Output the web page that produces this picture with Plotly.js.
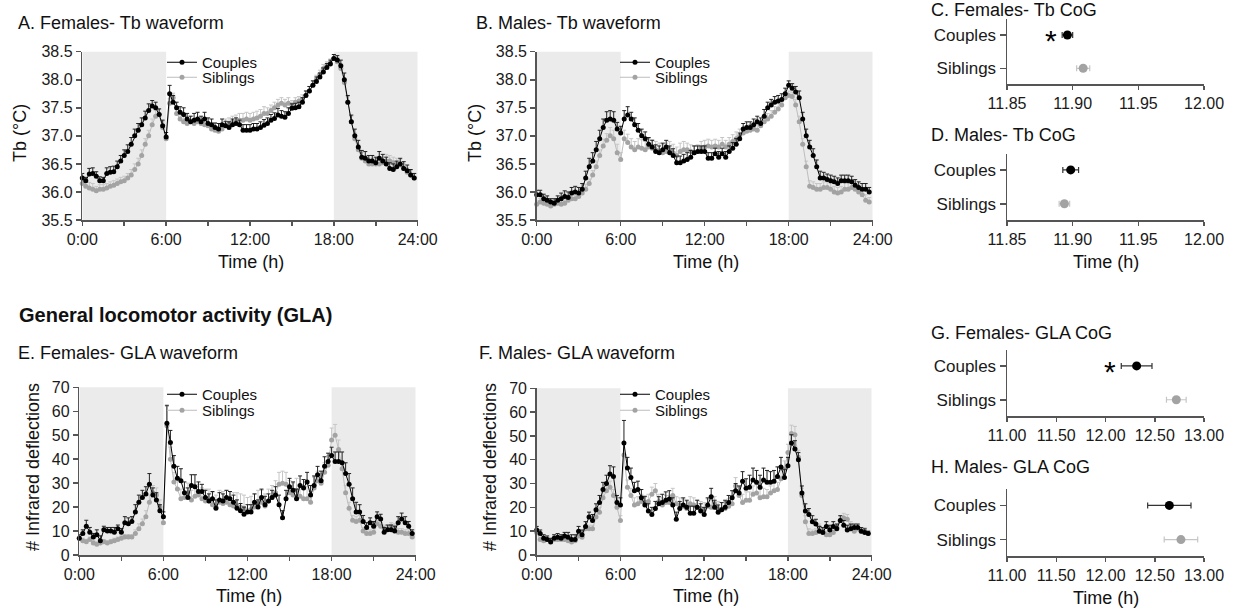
<!DOCTYPE html>
<html>
<head>
<meta charset="utf-8">
<script src="https://cdn.plot.ly/plotly-3.0.1.min.js"></script>
<style>html,body{margin:0;padding:0;background:#fff;}#chart{width:1239px;height:609px;}</style>
</head>
<body>
<div id="chart"></div>
<script>
// ---------------- DATA ----------------
const groups = ['Couples', 'Siblings'];
const xTickVals = [0, 3, 6, 9, 12, 15, 18, 21, 24];
const xTickText = ['0:00', '', '6:00', '', '12:00', '', '18:00', '', '24:00'];
const stepHours = 0.25; // 15-min bins

// A. Females - Tb waveform (°C)
const aCouples = [
  36.25,36.20,36.32,36.33,36.28,36.20,36.20,36.33,36.35,36.36,36.45,36.55,36.65,36.72,36.85,37.00,37.10,37.20,37.32,37.45,37.53,37.50,37.38,37.18,
  36.98,37.75,37.60,37.50,37.42,37.38,37.30,37.25,37.28,37.30,37.25,37.30,37.22,37.20,37.15,37.12,37.20,37.18,37.15,37.20,37.22,37.20,37.10,37.10,
  37.10,37.12,37.12,37.15,37.19,37.22,37.28,37.31,37.37,37.35,37.33,37.40,37.49,37.50,37.52,37.60,37.72,37.80,37.90,37.97,38.05,38.14,38.22,38.28,
  38.38,38.35,38.25,38.00,37.60,37.25,37.00,36.80,36.62,36.60,36.55,36.55,36.52,36.60,36.55,36.50,36.42,36.40,36.45,36.50,36.42,36.38,36.30,36.25];
const aCouplesErr = [
  0.08,0.06,0.10,0.10,0.08,0.07,0.06,0.10,0.10,0.10,0.10,0.10,0.10,0.12,0.12,0.12,0.12,0.12,0.12,0.12,0.10,0.10,0.10,0.10,
  0.08,0.15,0.12,0.10,0.10,0.12,0.10,0.10,0.12,0.12,0.10,0.12,0.10,0.10,0.08,0.10,0.10,0.08,0.10,0.10,0.10,0.08,0.10,0.10,
  0.10,0.10,0.10,0.10,0.10,0.10,0.10,0.10,0.12,0.10,0.10,0.10,0.08,0.08,0.08,0.08,0.08,0.08,0.08,0.08,0.07,0.07,0.07,0.07,
  0.07,0.08,0.10,0.12,0.12,0.12,0.12,0.12,0.12,0.12,0.10,0.10,0.10,0.12,0.12,0.12,0.10,0.10,0.10,0.10,0.12,0.10,0.10,0.08];
const aSiblings = [
  36.15,36.10,36.07,36.05,36.02,36.05,36.05,36.07,36.10,36.12,36.15,36.18,36.20,36.25,36.30,36.40,36.50,36.65,36.85,37.00,37.20,37.35,37.38,37.15,
  36.95,37.58,37.68,37.40,37.30,37.25,37.22,37.25,37.22,37.25,37.22,37.20,37.18,37.12,37.10,37.08,37.12,37.20,37.22,37.25,37.25,37.28,37.28,37.30,
  37.28,37.30,37.32,37.35,37.40,37.40,37.45,37.50,37.55,37.58,37.55,37.58,37.55,37.60,37.62,37.65,37.72,37.80,37.90,38.00,38.10,38.20,38.25,38.30,
  38.38,38.32,38.20,37.95,37.60,37.25,36.95,36.75,36.60,36.55,36.50,36.50,36.50,36.50,36.52,36.55,36.55,36.52,36.50,36.48,36.42,36.35,36.30,36.25];
const aSiblingsErr = [
  0.06,0.08,0.10,0.10,0.08,0.08,0.08,0.08,0.08,0.08,0.08,0.08,0.08,0.08,0.10,0.10,0.10,0.10,0.10,0.10,0.10,0.10,0.10,0.10,
  0.06,0.08,0.08,0.08,0.08,0.10,0.10,0.10,0.08,0.08,0.08,0.08,0.08,0.08,0.08,0.08,0.08,0.10,0.10,0.10,0.12,0.12,0.12,0.12,
  0.12,0.12,0.12,0.12,0.12,0.10,0.10,0.10,0.10,0.10,0.10,0.10,0.08,0.08,0.08,0.08,0.08,0.08,0.08,0.08,0.07,0.07,0.07,0.07,
  0.07,0.07,0.08,0.08,0.10,0.10,0.10,0.10,0.10,0.10,0.10,0.10,0.10,0.10,0.10,0.12,0.10,0.10,0.10,0.10,0.08,0.08,0.08,0.08];

// B. Males - Tb waveform (°C)
const bCouples = [
  35.95,35.95,35.88,35.85,35.82,35.80,35.85,35.88,35.92,35.90,35.98,36.00,35.98,36.05,36.25,36.45,36.55,36.75,36.95,37.15,37.28,37.30,37.28,37.12,
  37.05,37.30,37.37,37.30,37.20,37.10,37.00,36.95,36.85,36.80,36.72,36.70,36.75,36.80,36.70,36.65,36.52,36.52,36.55,36.58,36.62,36.70,36.72,36.72,
  36.72,36.60,36.60,36.68,36.62,36.68,36.62,36.72,36.78,36.85,36.95,37.12,37.15,37.15,37.20,37.25,37.22,37.35,37.50,37.55,37.60,37.62,37.65,37.75,
  37.90,37.85,37.78,37.68,37.30,37.00,36.80,36.65,36.45,36.25,36.25,36.22,36.20,36.18,36.15,36.20,36.20,36.20,36.18,36.12,36.08,36.05,36.05,36.00];
const bCouplesErr = [
  0.08,0.08,0.08,0.08,0.06,0.08,0.08,0.10,0.10,0.10,0.10,0.10,0.10,0.10,0.12,0.15,0.15,0.15,0.15,0.15,0.15,0.15,0.15,0.12,
  0.12,0.15,0.15,0.12,0.12,0.12,0.12,0.12,0.12,0.12,0.12,0.12,0.12,0.12,0.12,0.12,0.12,0.12,0.12,0.12,0.12,0.12,0.10,0.10,
  0.10,0.10,0.10,0.10,0.10,0.10,0.10,0.10,0.10,0.10,0.10,0.10,0.10,0.10,0.10,0.10,0.10,0.12,0.10,0.10,0.10,0.10,0.10,0.10,
  0.08,0.08,0.10,0.12,0.12,0.12,0.12,0.12,0.12,0.12,0.10,0.10,0.10,0.10,0.10,0.10,0.10,0.10,0.10,0.10,0.10,0.10,0.10,0.08];
const bSiblings = [
  35.78,35.82,35.80,35.78,35.75,35.78,35.80,35.78,35.80,35.85,35.88,35.88,35.92,35.98,36.05,36.15,36.30,36.45,36.65,36.82,36.92,37.00,36.95,36.70,
  36.58,36.95,36.88,36.80,36.75,36.80,36.78,36.75,36.80,36.78,36.75,36.72,36.70,36.72,36.75,36.70,36.65,36.72,36.75,36.75,36.72,36.70,36.72,36.78,
  36.80,36.82,36.80,36.82,36.80,36.85,36.80,36.85,36.90,36.95,37.00,37.05,37.08,37.10,37.12,37.10,37.18,37.25,37.30,37.35,37.42,37.48,37.55,37.68,
  37.72,37.70,37.55,37.25,36.85,36.45,36.10,36.08,36.05,36.05,36.08,36.08,36.05,36.00,35.98,36.00,36.05,36.05,36.08,36.05,36.00,35.95,35.85,35.82];
const bSiblingsErr = [
  0.06,0.06,0.06,0.06,0.06,0.06,0.06,0.06,0.06,0.06,0.06,0.06,0.06,0.06,0.08,0.08,0.08,0.10,0.10,0.12,0.12,0.15,0.15,0.15,
  0.12,0.15,0.15,0.15,0.15,0.15,0.15,0.15,0.15,0.15,0.15,0.15,0.15,0.15,0.15,0.15,0.15,0.15,0.15,0.12,0.12,0.12,0.12,0.12,
  0.12,0.12,0.12,0.12,0.12,0.12,0.12,0.12,0.12,0.12,0.12,0.10,0.10,0.10,0.10,0.10,0.10,0.10,0.10,0.10,0.10,0.10,0.10,0.10,
  0.08,0.08,0.10,0.10,0.10,0.10,0.10,0.10,0.10,0.10,0.10,0.10,0.10,0.10,0.10,0.10,0.10,0.10,0.10,0.10,0.10,0.10,0.10,0.08];

// E. Females - GLA waveform (# infrared deflections)
const eCouples = [
  7,9,12,9.5,7.5,8.5,6,10.5,10,10,9.5,11,9.5,13.5,13,14,18,22,24,25.5,29.5,25,23,18.5,
  16,55,47,37,32,31,26,24,29,28.5,26.5,26.5,24,22.5,23.5,19.5,23,22.5,24,23.5,22,19.5,18.5,17,
  18,18,22,20,24,21,22.5,24,25,21,15.5,23.5,28.5,27,23.5,29,28,30.5,25,29,33.5,31,37,39,
  41.5,39,39,38.5,34,29.5,23.5,18,18,14,11.5,13.5,12,16,15,9.5,10.5,10.5,10,13.5,15,13.5,12,9];
const eCouplesErr = [
  1.5,1.5,2.5,2,1.5,2,2,1.5,1.5,1.5,2,1.5,1.5,2.5,2.5,2,3,3,3,3,4.5,3,3,2.5,
  2,7.5,5,4.5,5,5,4.5,4,4.5,5,4,3,3,3,3,3.5,3,3,3,3,3,3.5,3,3,
  3,3,3.5,3,3.5,3.5,3,3,3.5,4,3,3.5,3.5,3.5,4,4,3.5,4,4,4,3.5,4,4,3.5,
  3.5,4,4,4.5,4.5,4.5,4.5,4,3,2.5,2,2,2,2,2,2,2,2,2,2.5,2.5,2.5,2,1.5];
const eSiblings = [
  7,6,5.5,6.5,5,4.5,5,5.5,5,5.5,6,6.5,7,7.5,7.5,7.5,9,11,13,16,22,26,25,20,
  13.5,54,40,30.5,27.5,23.5,24,26,23,24.5,25,23.5,22.5,22.5,21,20,22,21.5,22,21,20.5,20.5,20,19.5,
  18.5,19,20,21.5,22,20.5,22.5,24,26,29.5,30,29.5,26,25,27,24.5,23.5,23.5,22,28,31,30,34.5,37.5,
  48,50,44,36,26,19.5,14.5,14,14.5,10,9,9,9.5,13,12,11,11,12,11.5,9.5,9.5,9,9,7.5];
const eSiblingsErr = [
  1,1,1,1,1,1,1,1,1,1,1,1,1,1,1,1,1.5,2,2,2.5,3,3,3,3,
  2,8,5,4,4,4,4,4,4,4,4.5,4.5,5,5,5,5,5,5,5,5.5,5.5,5.5,5.5,5.5,
  5.5,5.5,5.5,5.5,5,5,5,5,5,5,5,5,5,5,5,5,5,5,4.5,4.5,4,4,4,4,
  5,4.5,4,3,3,2.5,2,2,2,1.5,1.5,1.5,1.5,1.5,1.5,1.5,1.5,1.5,1.5,1.5,1.5,1.5,1.5,1];

// F. Males - GLA waveform (# infrared deflections)
const fCouples = [
  10.5,9,7,6.5,5.5,7,7.5,7,8,7.5,6.5,6.5,10,8.5,12,16,14.5,19,22,27.5,30,34,33,22,
  21,47,36.5,32.5,27,27.5,24,21,18.5,17,19.5,21.5,22,23,23.5,21,15,19.5,21,20,17.5,17.5,20,18.5,
  17,21,24.5,20,18,19,20,22,24,27,26,31,28,28.5,31.5,30.5,28.5,31.5,30.5,30.5,31,33,37,32.5,
  37.5,47,44.5,40,26,18.5,17,14,13,10,9.5,12,10.5,12,11,14.5,12.5,10.5,11,11.5,11.5,10,9.5,9];
const fCouplesErr = [
  1.5,1.5,1.5,1.5,1.5,1.5,1.5,1.5,1.5,2,2,2,2,2,2,2,2.5,2.5,3,3,3.5,3.5,4,3,
  3,9.5,4.5,4,3.5,3.5,3.5,3.5,3,3,3,3,3.5,3.5,3.5,3,3,3,3,3,3,3,3,3,
  3,3,3.5,3,3,3,3,3,3,3,3,4,4,5,5,5,5,5,5,4.5,4.5,4,4,3.5,
  3.5,3.5,3.5,3,3,3,2.5,2.5,2,2,2,2,2,2,2,2,2,2,2,1.5,1.5,1.5,1.5,1];
const fSiblings = [
  9.5,6.5,6,6.5,6,6.5,6.5,6.5,6.5,6,5.5,6,8,7.5,11,11,11,16,18,24,27,28.5,25,20,
  14.5,42,28.5,25,21,21.5,22.5,22,22.5,25.5,27,22.5,21,22,22,25,21.5,21,20.5,19.5,21.5,21,20,19.5,
  19,20.5,20,21.5,19.5,19,19.5,20.5,21.5,29,25,22,23,23,25.5,26,24,24.5,24.5,26,27,27.5,32,36,
  43,51,50.5,41,25,14,9,9,9.5,11.5,10,8.5,8.5,9.5,11.5,14.5,15.5,15,12,10,11,10,10,9];
const fSiblingsErr = [
  1,1,1,1,1,1,1,1,1,1,1,1,1,1,1.5,1.5,1.5,2,2,2.5,2.5,2.5,2.5,3,
  2,4.5,3,3,3,3,3,3,3,3,3,3,3,3,3,3,3,3,3,3,3,3,3,3,
  3,3,3,3,3,3,3,3,3,3.5,3.5,3.5,3.5,3.5,3.5,3.5,3.5,3.5,3,3,3,3,3.5,3.5,
  3.5,3.5,3.5,3,3,2.5,2,1.5,1.5,1.5,1.5,1.5,1.5,1.5,1.5,2,2,2,2,1.5,1.5,1.5,1.5,1];

// Centre of gravity (CoG), time (h): mean and SEM, order = groups
const cMean = [11.896, 11.908];   const cSem = [0.004, 0.005];
const dMean = [11.8985, 11.8937]; const dSem = [0.006, 0.004];
const gMean = [12.316, 12.719];   const gSem = [0.156, 0.10];
const hMean = [12.648, 12.766];   const hSem = [0.22, 0.17];

// ---------------- STYLE / LAYOUT ----------------
const W = 1239, H = 609;
const FONT = 'Liberation Sans, Arial, Helvetica, sans-serif';
const AX = '#555555';
const BLACK = '#000000', GREY = '#a3a3a3', GREY_LINE = '#bdbdbd', GREY_ERR = '#c6c6c6', SHADE = '#ebebeb';
const fx = p => p / W;
const fy = p => 1 - p / H;

function hoursFor(arr) { return arr.map((_, i) => i * stepHours); }
function zeros(arr) { return arr.map(() => 0); }

function wave(vals, err, isCouple, xa, ya, leg) {
  return {
    type: 'scatter', mode: 'lines+markers',
    x: hoursFor(vals), y: vals, xaxis: xa, yaxis: ya,
    name: isCouple ? groups[0] : groups[1],
    legend: leg,
    line: { color: isCouple ? BLACK : GREY_LINE, width: 1 },
    marker: { color: isCouple ? BLACK : GREY, size: 5 },
    error_y: { type: 'data', symmetric: false, array: err, arrayminus: zeros(err),
               color: isCouple ? '#222' : GREY_ERR, thickness: 1, width: 2 },
    cliponaxis: false, hoverinfo: 'x+y'
  };
}
function cog(means, sems, idx, xa, ya) {
  const isCouple = idx === 0;
  return {
    type: 'scatter', mode: 'markers',
    x: [means[idx]], y: [groups[idx]], xaxis: xa, yaxis: ya,
    showlegend: false,
    marker: { color: isCouple ? BLACK : GREY, size: 9 },
    error_x: { type: 'data', array: [sems[idx]], color: isCouple ? '#333' : GREY_ERR, thickness: 1.2, width: 3 },
    cliponaxis: false
  };
}

const data = [
  wave(aSiblings, aSiblingsErr, false, 'x', 'y', 'legend2'),
  wave(aCouples, aCouplesErr, true, 'x', 'y', 'legend'),
  wave(bSiblings, bSiblingsErr, false, 'x2', 'y2', 'legend4'),
  wave(bCouples, bCouplesErr, true, 'x2', 'y2', 'legend3'),
  cog(cMean, cSem, 0, 'x3', 'y3'), cog(cMean, cSem, 1, 'x3', 'y3'),
  cog(dMean, dSem, 0, 'x4', 'y4'), cog(dMean, dSem, 1, 'x4', 'y4'),
  wave(eSiblings, eSiblingsErr, false, 'x5', 'y5', 'legend6'),
  wave(eCouples, eCouplesErr, true, 'x5', 'y5', 'legend5'),
  wave(fSiblings, fSiblingsErr, false, 'x6', 'y6', 'legend8'),
  wave(fCouples, fCouplesErr, true, 'x6', 'y6', 'legend7'),
  cog(gMean, gSem, 0, 'x7', 'y7'), cog(gMean, gSem, 1, 'x7', 'y7'),
  cog(hMean, hSem, 0, 'x8', 'y8'), cog(hMean, hSem, 1, 'x8', 'y8')
];

const tickFont = { family: FONT, size: 16, color: '#1a1a1a' };
const common = { showline: true, linecolor: AX, linewidth: 1.5, ticks: 'outside', tickcolor: AX, tickwidth: 1.5,
                 showgrid: false, zeroline: false, tickfont: tickFont, fixedrange: true };

function timeX(x0, x1, anchor) {
  return Object.assign({}, common, { domain: [fx(x0), fx(x1)], anchor: anchor, range: [0, 24],
    tickmode: 'array', tickvals: xTickVals, ticktext: xTickText, ticklen: 4 });
}
function valY(y0, y1, anchor, range, dtick, fmt) {
  return Object.assign({}, common, { domain: [fy(y1), fy(y0)], anchor: anchor, range: range,
    tick0: range[0], dtick: dtick, tickformat: fmt, ticklen: 5 });
}
function cogX(anchor, range, dtick) {
  return Object.assign({}, common, { domain: [fx(1007), fx(1204)], anchor: anchor, range: range,
    tick0: range[0], dtick: dtick, tickformat: '.2f', ticklen: 4 });
}
function cogY(y0, y1, anchor) {
  return Object.assign({}, common, { domain: [fy(y1), fy(y0)], anchor: anchor, type: 'category',
    categoryorder: 'array', categoryarray: [groups[1], groups[0]], range: [-0.48, 1.47], ticklen: 6,
    tickfont: { family: FONT, size: 17, color: '#1a1a1a' } });
}

const shapes = [];
[['x', 'y'], ['x2', 'y2'], ['x5', 'y5'], ['x6', 'y6']].forEach(([xa, ya]) => {
  [[0, 6], [18, 24]].forEach(([a, b]) => shapes.push({
    type: 'rect', xref: xa, yref: ya + ' domain', x0: a, x1: b, y0: 0, y1: 1,
    fillcolor: SHADE, line: { width: 0 }, layer: 'below' }));
});

function txt(text, x, y, size, opts) {
  return Object.assign({ text: text, xref: 'paper', yref: 'paper', x: fx(x), y: fy(y), showarrow: false,
    xanchor: 'left', yanchor: 'middle', font: { family: FONT, size: size, color: '#111' } }, opts || {});
}
const annotations = [
  txt('A. Females- Tb waveform', 16, 22.7, 18),
  txt('B. Males- Tb waveform', 474, 22.7, 18),
  txt('C. Females- Tb CoG', 929, 10, 18),
  txt('D. Males- Tb CoG', 929, 135, 18),
  txt('<b>General locomotor activity (GLA)</b>', 17, 315, 20),
  txt('E. Females- GLA waveform', 16, 353.3, 18),
  txt('F. Males- GLA waveform', 477, 353.3, 18),
  txt('G. Females- GLA CoG', 929, 333.3, 18),
  txt('H. Males- GLA CoG', 929, 466.7, 18),
  txt('Time (h)', 251, 262, 18, { xanchor: 'center' }),
  txt('Time (h)', 706, 262, 18, { xanchor: 'center' }),
  txt('Time (h)', 1106, 262, 18, { xanchor: 'center' }),
  txt('Time (h)', 249, 596, 18, { xanchor: 'center' }),
  txt('Time (h)', 706, 596, 18, { xanchor: 'center' }),
  txt('Time (h)', 1106, 598, 18, { xanchor: 'center' }),
  txt('Tb (°C)', 20, 133, 18, { xanchor: 'center', textangle: -90 }),
  txt('Tb (°C)', 475, 133, 18, { xanchor: 'center', textangle: -90 }),
  txt('# Infrared deflections', 33, 467, 18, { xanchor: 'center', textangle: -90 }),
  txt('# Infrared deflections', 490, 467, 18, { xanchor: 'center', textangle: -90 }),
  { text: '*', xref: 'x3', yref: 'y3', x: 11.8835, y: 1, yshift: -6, showarrow: false,
    font: { family: FONT, size: 30, color: '#000' } },
  { text: '*', xref: 'x7', yref: 'y7', x: 12.05, y: 1, yshift: -6, showarrow: false,
    font: { family: FONT, size: 30, color: '#000' } }
];

const legBase = { bgcolor: 'rgba(0,0,0,0)', borderwidth: 0, font: { family: FONT, size: 15, color: '#111' },
                  itemwidth: 30, tracegroupgap: 0, xanchor: 'left', yanchor: 'top' };
const leg = (xp, yp) => Object.assign({}, legBase, { x: fx(xp), y: fy(yp) });

const layout = {
  width: W, height: H, margin: { l: 0, r: 0, t: 0, b: 0 },
  paper_bgcolor: '#fff', plot_bgcolor: 'rgba(0,0,0,0)',
  font: { family: FONT, color: '#111' },
  showlegend: true,
  xaxis: timeX(82.3, 417.7, 'y'),
  yaxis: valY(51.7, 220, 'x', [35.5, 38.5], 0.5, '.1f'),
  xaxis2: timeX(536.7, 872.7, 'y2'),
  yaxis2: valY(51.7, 220, 'x2', [35.5, 38.5], 0.5, '.1f'),
  xaxis3: cogX('y3', [11.85, 12.0], 0.05),
  yaxis3: cogY(19.3, 84.3, 'x3'),
  xaxis4: cogX('y4', [11.85, 12.0], 0.05),
  yaxis4: cogY(154, 220, 'x4'),
  xaxis5: timeX(79.3, 415.7, 'y5'),
  yaxis5: valY(387.3, 555, 'x5', [0, 70], 10, 'd'),
  xaxis6: timeX(536.7, 871.7, 'y6'),
  yaxis6: valY(388.3, 555, 'x6', [0, 70], 10, 'd'),
  xaxis7: cogX('y7', [11, 13], 0.5),
  yaxis7: cogY(350, 416, 'x7'),
  xaxis8: cogX('y8', [11, 13], 0.5),
  yaxis8: cogY(489.3, 556, 'x8'),
  legend: leg(162, 46),
  legend2: leg(162, 61),
  legend3: leg(615, 46),
  legend4: leg(615, 61),
  legend5: leg(162, 378),
  legend6: leg(162, 394),
  legend7: leg(615, 378),
  legend8: leg(615, 394),
  shapes: shapes,
  annotations: annotations
};

Plotly.newPlot('chart', data, layout, { staticPlot: true, displayModeBar: false });
</script>
</body>
</html>
